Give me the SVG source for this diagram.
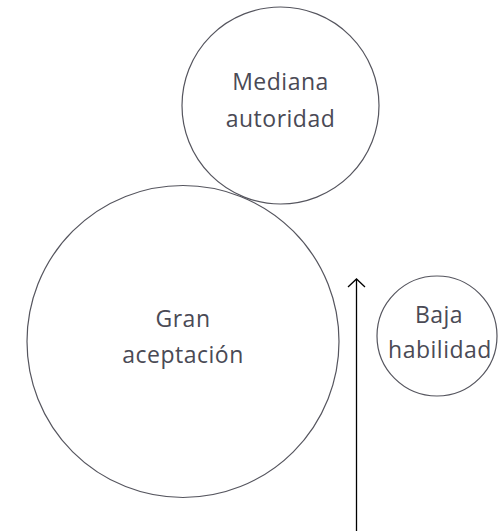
<svg xmlns="http://www.w3.org/2000/svg" width="502" height="531" viewBox="0 0 502 531">
<defs>
<style>
.node{fill:#fff;stroke:#55555e;stroke-width:1.2}
.lbl{font-family:"Open Sans","Noto Sans",sans-serif;font-size:23px;font-weight:500;fill:#4a4a55;text-anchor:middle;letter-spacing:0.5px}
.conn{stroke:#000;stroke-width:1.3;fill:none}
</style>
<marker id="arr" viewBox="0 0 20 20" refX="10" refY="10" markerWidth="20" markerHeight="20" markerUnits="userSpaceOnUse" orient="auto">
<path d="M2,1.5 L10,10 L2,18.5" fill="none" stroke="#000" stroke-width="1.3"/>
</marker>
</defs>
<g id="connectors">
<line class="conn" x1="356.5" y1="531" x2="356.5" y2="279" marker-end="url(#arr)"/>
</g>
<g id="gran">
<circle class="node" cx="183" cy="341.5" r="156"/>
<text class="lbl" x="183" y="327">Gran</text>
<text class="lbl" x="183" y="363">aceptación</text>
</g>
<g id="mediana">
<circle class="node" cx="280.5" cy="105.5" r="98.5"/>
<text class="lbl" x="280.5" y="90">Mediana</text>
<text class="lbl" x="280.5" y="127">autoridad</text>
</g>
<g id="baja">
<circle class="node" cx="437" cy="336" r="60"/>
<text class="lbl" x="439" y="323">Baja</text>
<text class="lbl" x="440" y="358">habilidad</text>
</g>
</svg>
